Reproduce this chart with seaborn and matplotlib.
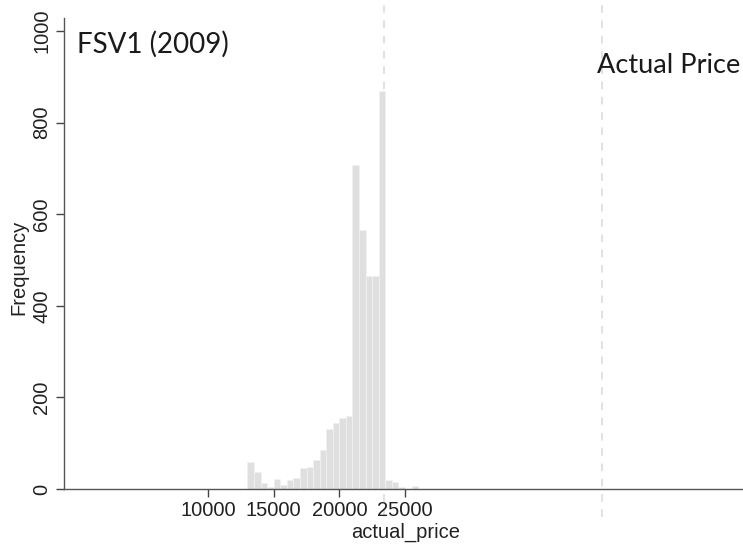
import numpy as np
import pandas as pd
import matplotlib
matplotlib.use("Agg")
import matplotlib.pyplot as plt
import seaborn as sns

# Histogram of simulated prices: bin edges (500-wide) and frequencies
bin_left = [13000, 13500, 14000, 14500, 15000, 15500, 16000, 16500, 17000,
            17500, 18000, 18500, 19000, 19500, 20000, 20500, 21000, 21500,
            22000, 22500, 23000, 23500, 24000, 24500, 25000, 25500]
frequency = [60, 38, 13, 5, 22, 9, 20, 24, 46, 48, 63, 85, 131, 145, 155,
             159, 707, 565, 465, 465, 870, 20, 16, 4, 0, 6]
bin_width = 500

# Reference lines
mean_line = 23400
actual_price = 40000

x_ticks = [10000, 15000, 20000, 25000]
y_ticks = [0, 200, 400, 600, 800, 1000]

sns.set_style("white")
plt.rcParams["font.family"] = ["Liberation Sans", "DejaVu Sans"]

W, H = 743, 544
fig = plt.figure(figsize=(W / 100, H / 100), dpi=100)
ax_left, ax_right, ax_top, ax_bot = 64, 743, 18, 489
ax = fig.add_axes([ax_left / W, 1 - ax_bot / H,
                   (ax_right - ax_left) / W, (ax_bot - ax_top) / H])

df = pd.DataFrame({"actual_price": np.array(bin_left) + bin_width / 2,
                   "count": frequency})
edges = list(bin_left) + [bin_left[-1] + bin_width]
sns.histplot(data=df, x="actual_price", weights="count", bins=edges,
             color="#dfdfdf", alpha=1, edgecolor="#f2f2f2", linewidth=0.5,
             ax=ax)

# axis scale: 10000 at px 208, 25000 at px 405
ppu = (405 - 208) / 15000
x0 = 10000 - (208 - ax_left) / ppu
x1 = 10000 + (ax_right - 208) / ppu
ax.set_xlim(x0, x1)
ax.set_ylim(0, 1000 * (ax_bot - ax_top) / (489 - 31))

for xv in (mean_line, actual_price):
    ax.axvline(xv, ymin=-0.06, ymax=1.04, color="#d9d9d9", lw=1.1,
               ls=(0, (5, 5)), clip_on=False, zorder=0)

ax.set_xticks(x_ticks)
ax.set_xticklabels([str(v) for v in x_ticks], fontsize=14.5)
ax.set_yticks(y_ticks)
ax.set_yticklabels([str(v) for v in y_ticks], fontsize=14.5, rotation=90,
                   va="center")
ax.tick_params(axis="both", direction="out", length=6, width=1,
               color="#444444", labelcolor="#222222", bottom=True, left=True,
               pad=3)
ax.set_xlabel("actual_price", fontsize=14.5, color="#222222")
ax.xaxis.set_label_coords((406 - ax_left) / (ax_right - ax_left), -0.072)
ax.set_ylabel("Frequency", fontsize=14.5, color="#222222")
ax.yaxis.set_label_coords(-0.052, 0.47)

for side in ("top", "right"):
    ax.spines[side].set_visible(False)
for side in ("left", "bottom"):
    ax.spines[side].set_color("#555555")
    ax.spines[side].set_linewidth(1.0)

fig.text(77 / W, 1 - 53 / H, "FSV1 (2009)", family=["Lato", "DejaVu Sans"],
         fontsize=20, color="#1a1a1a", ha="left", va="baseline")
fig.text(597 / W, 1 - 73 / H, "Actual Price", family=["Lato", "DejaVu Sans"],
         fontsize=19.5, color="#1a1a1a", ha="left", va="baseline")

fig.savefig("out.png", dpi=100, facecolor="white")
